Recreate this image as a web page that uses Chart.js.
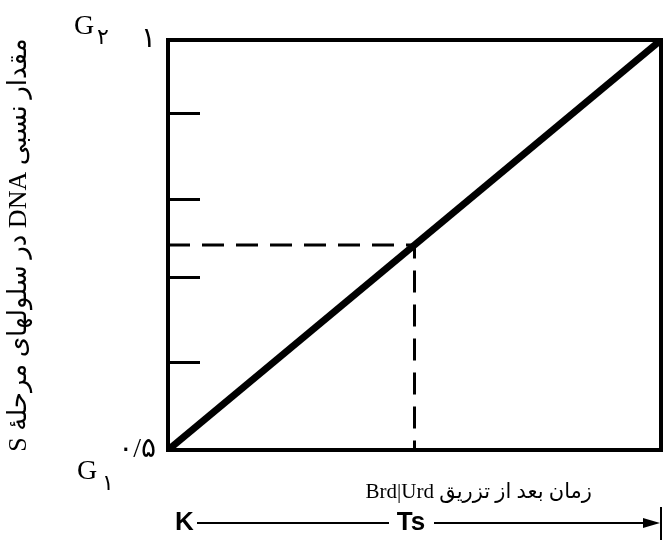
<!DOCTYPE html>
<html lang="fa">
<head>
<meta charset="utf-8">
<title>DNA در مرحلهٔ S</title>
<script src="https://cdn.jsdelivr.net/npm/chart.js@4.4.1/dist/chart.umd.min.js"></script>
<style>
  html, body { margin: 0; padding: 0; background: #fff; }
  #wrap { width: 669px; height: 544px; position: relative; }
</style>
</head>
<body>
<div id="wrap"><canvas id="dnaS"></canvas></div>
<script>
// time after Brd/Urd injection, as a fraction of Ts
var timeFrac = [0, 1];
// relative DNA content of S-phase cells (G1 = 0.5, G2 = 1)
var dnaRel = [0.5, 1];
// dashed reading at half of Ts
var markTime = [0, 0.5, 0.5];
var markDna = [0.75, 0.75, 0.5];
// y axis ticks (hand-placed marks) and their labels
var yTickValues = [0.5, 0.607, 0.71, 0.805, 0.91, 1];
var yTickLabels = ['۰/۵', '', '', '', '', '۱'];

var RTL = '\u202B', POP = '\u202C';
var persianFont = "'Liberation Serif', 'DejaVu Sans', serif";

function pairs(xs, ys) {
    return xs.map(function (v, i) { return {x: v, y: ys[i]}; });
}

// frame, phase labels, bottom caption and the Ts arrow
var annotate = {
    id: 'annotate',
    afterDraw: function (chart) {
        var ctx = chart.ctx, a = chart.chartArea, y = chart.scales.y;
        ctx.save();
        ctx.strokeStyle = '#000';
        ctx.fillStyle = '#000';
        ctx.lineWidth = 4;
        ctx.strokeRect(a.left, a.top, a.right - a.left, a.bottom - a.top);

        // G2 / G1
        var gTop = y.getPixelForValue(1), gBot = y.getPixelForValue(0.5);
        ctx.textBaseline = 'alphabetic';
        ctx.textAlign = 'left';
        ctx.font = '28px ' + persianFont;
        ctx.fillText('G', a.left - 94, gTop - 6);
        ctx.fillText('G', a.left - 91, gBot + 29);
        ctx.font = '22px ' + persianFont;
        ctx.fillText('۲', a.left - 71, gTop + 4);
        ctx.fillText('۱', a.left - 66, gBot + 40);

        // caption under the x axis
        ctx.textAlign = 'right';
        ctx.font = '21px ' + persianFont;
        ctx.fillText(RTL + 'زمان بعد از تزریق Brd|Urd' + POP, a.right - 69, a.bottom + 48);

        // K ---- Ts ----> |
        var rowY = a.bottom + 73;
        ctx.font = 'bold 26px "Liberation Sans", Arial, sans-serif';
        ctx.textBaseline = 'middle';
        ctx.textAlign = 'left';
        ctx.fillText('K', a.left + 7, rowY);
        ctx.textAlign = 'center';
        ctx.fillText('Ts', a.left + 243, rowY);
        ctx.lineWidth = 2;
        ctx.beginPath();
        ctx.moveTo(a.left + 29, rowY);
        ctx.lineTo(a.left + 221, rowY);
        ctx.moveTo(a.left + 266, rowY);
        ctx.lineTo(a.right - 14, rowY);
        ctx.stroke();
        ctx.beginPath();
        ctx.moveTo(a.right - 1, rowY);
        ctx.lineTo(a.right - 18, rowY - 5);
        ctx.lineTo(a.right - 18, rowY + 5);
        ctx.closePath();
        ctx.fill();
        ctx.beginPath();
        ctx.moveTo(a.right, rowY - 16);
        ctx.lineTo(a.right, rowY + 17);
        ctx.stroke();
        ctx.restore();
    }
};

var ctx = document.getElementById('dnaS').getContext('2d');
var chart = new Chart(ctx, {
    type: 'line',
    data: {
        datasets: [
            {
                data: pairs(timeFrac, dnaRel),
                borderColor: '#000',
                borderWidth: 7,
                pointRadius: 0,
                tension: 0
            },
            {
                data: pairs(markTime, markDna),
                borderColor: '#000',
                borderWidth: 3,
                borderDash: [22, 12],
                pointRadius: 0,
                tension: 0
            }
        ]
    },
    options: {
        responsive: true,
        maintainAspectRatio: false,
        animation: false,
        layout: { padding: { top: 40, right: 8, bottom: 94, left: 0 } },
        plugins: {
            legend: { display: false },
            tooltip: { enabled: false }
        },
        scales: {
            x: {
                type: 'linear',
                min: 0,
                max: 1,
                display: false
            },
            y: {
                type: 'linear',
                min: 0.5,
                max: 1,
                afterBuildTicks: function (scale) {
                    scale.ticks = yTickValues.map(function (v) { return {value: v}; });
                },
                afterFit: function (scale) {
                    scale.width = 168;
                    scale.paddingTop = 0;
                    scale.paddingBottom = 0;
                },
                border: { display: false },
                grid: {
                    drawOnChartArea: false,
                    drawTicks: true,
                    tickLength: -32,
                    tickWidth: 3,
                    tickColor: function (c) {
                        var v = c.tick && c.tick.value;
                        return (v === 0.5 || v === 1) ? 'rgba(0,0,0,0)' : '#000';
                    }
                },
                ticks: {
                    autoSkip: false,
                    padding: 44,
                    color: '#000',
                    font: { family: persianFont, size: 28 },
                    callback: function (v) {
                        var i = yTickValues.indexOf(v);
                        return i < 0 ? '' : yTickLabels[i];
                    }
                },
                title: {
                    display: true,
                    text: RTL + 'مقدار نسبی DNA در سلولهای مرحلهٔ S' + POP,
                    color: '#000',
                    font: { family: persianFont, size: 26 },
                    padding: { top: 4, bottom: 0 }
                }
            }
        }
    },
    plugins: [annotate]
});
</script>
</body>
</html>
